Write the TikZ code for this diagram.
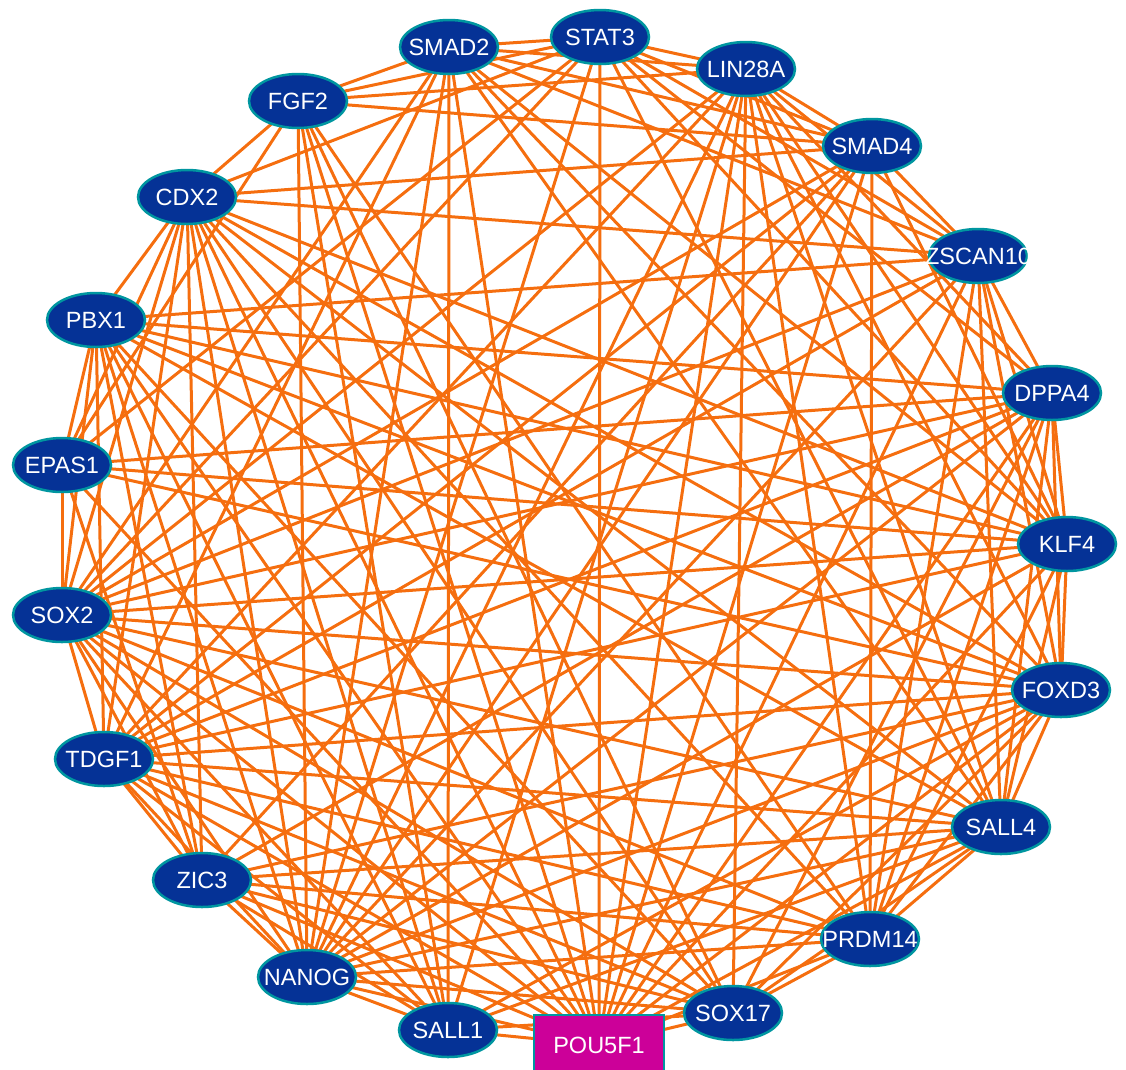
\documentclass[tikz,border=0pt]{standalone}
\usepackage{fontspec}
\setmainfont{Liberation Sans}
\usetikzlibrary{shapes.geometric,backgrounds}
\definecolor{edgeorange}{RGB}{245,110,15}
\definecolor{genefill}{RGB}{5,50,150}
\definecolor{generim}{RGB}{0,150,160}
\definecolor{seedfill}{RGB}{204,0,153}
\tikzset{
  gene/.style={ellipse, fill=genefill, draw=generim, line width=2.5pt,
    minimum width=98pt, minimum height=54pt, inner sep=0pt,
    text=white, font=\fontsize{23.5}{23.5}\selectfont},
  seed/.style={rectangle, fill=seedfill, draw=generim, line width=2.5pt,
    minimum width=130pt, minimum height=60pt, inner sep=0pt,
    text=white, font=\fontsize{23.5}{23.5}\selectfont},
  link/.style={edgeorange, line width=3pt}
}
\begin{document}
\begin{tikzpicture}[x=1pt, y=-1pt]
    \useasboundingbox (0,0) rectangle (1126,1069);
    % Genes round the circle
    \foreach \n/\x/\y in {STAT3/600/37, LIN28A/746/69, SMAD4/872/146,
        ZSCAN10/978/256, DPPA4/1052/393, KLF4/1067/544, FOXD3/1061/690,
        SALL4/1001/827, PRDM14/870/939, SOX17/733/1013, SALL1/448/1030,
        NANOG/307/977, ZIC3/202/880, TDGF1/104/759, SOX2/62/615,
        EPAS1/62/465, PBX1/96/320, CDX2/187/197, FGF2/298/101, SMAD2/449/47} {
        \node[gene] (\n) at (\x,\y) {\makebox[0pt]{\n}};
    }
    % Seed gene
    \node[seed] (POU5F1) at (599,1045) {POU5F1};

    % Interactions
    \begin{pgfonlayer}{background}
    \foreach \a/\bs in {
        STAT3/{LIN28A,SMAD4,ZSCAN10,DPPA4,KLF4,SALL4,POU5F1,NANOG,SOX2,EPAS1,CDX2,FGF2,SMAD2},
        LIN28A/{SMAD4,ZSCAN10,DPPA4,KLF4,FOXD3,SALL4,PRDM14,SOX17,POU5F1,SALL1,NANOG,TDGF1,SOX2,FGF2,SMAD2},
        SMAD4/{ZSCAN10,KLF4,PRDM14,POU5F1,NANOG,ZIC3,TDGF1,SOX2,CDX2,FGF2,SMAD2},
        ZSCAN10/{DPPA4,KLF4,FOXD3,SALL4,PRDM14,POU5F1,NANOG,TDGF1,SOX2,PBX1,CDX2,SMAD2},
        DPPA4/{KLF4,FOXD3,SALL4,PRDM14,SOX17,POU5F1,NANOG,ZIC3,TDGF1,SOX2,EPAS1,PBX1},
        KLF4/{FOXD3,SALL4,PRDM14,POU5F1,NANOG,TDGF1,SOX2,EPAS1,PBX1,CDX2,SMAD2},
        FOXD3/{SALL4,PRDM14,SOX17,POU5F1,SALL1,NANOG,ZIC3,TDGF1,SOX2,EPAS1,PBX1,CDX2,SMAD2},
        SALL4/{PRDM14,SOX17,POU5F1,SALL1,NANOG,ZIC3,TDGF1,SOX2,PBX1,CDX2,SMAD2},
        PRDM14/{SOX17,POU5F1,NANOG,ZIC3,TDGF1,SOX2,CDX2,FGF2},
        SOX17/{POU5F1,SALL1,NANOG,ZIC3,TDGF1,SOX2,PBX1,CDX2,FGF2},
        POU5F1/{SALL1,NANOG,ZIC3,TDGF1,SOX2,EPAS1,PBX1,CDX2,FGF2,SMAD2},
        SALL1/{NANOG,ZIC3,TDGF1,SOX2,PBX1,CDX2,FGF2,SMAD2},
        NANOG/{ZIC3,TDGF1,SOX2,PBX1,CDX2,FGF2,SMAD2},
        ZIC3/{TDGF1,SOX2,EPAS1,PBX1,CDX2},
        TDGF1/{SOX2,PBX1,CDX2,SMAD2},
        SOX2/{EPAS1,PBX1,CDX2,SMAD2},
        EPAS1/{PBX1,CDX2,FGF2},
        PBX1/{CDX2},
        CDX2/{FGF2},
        FGF2/{SMAD2}} {
        \foreach \b in \bs {
            \draw[link] (\a.center) -- (\b.center);
        }
    }
    \end{pgfonlayer}
\end{tikzpicture}
\end{document}
